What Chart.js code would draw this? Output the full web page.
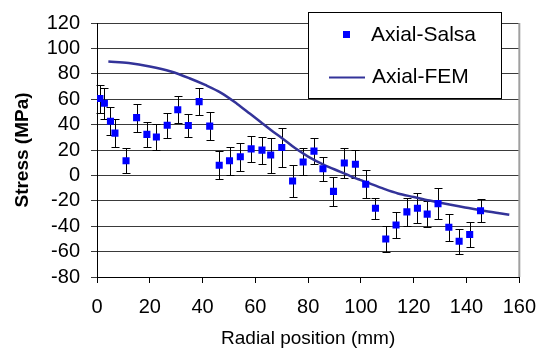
<!DOCTYPE html>
<html>
<head>
<meta charset="utf-8">
<script src="https://cdn.jsdelivr.net/npm/chart.js@4/dist/chart.umd.min.js"></script>
<style>
html,body{margin:0;padding:0;background:#fff;}
#wrap{width:548px;height:353px;position:relative;}
</style>
</head>
<body>
<div id="wrap"><canvas id="c" width="548" height="353"></canvas></div>
<script>
// Measured (Salsa) data
const salsaX = [1.1, 2.8, 5.1, 6.8, 11, 15, 18.9, 22.5, 26.6, 30.6, 34.6, 38.7, 42.7, 46.3, 50.2, 54.3, 58.4, 62.5, 65.8, 70, 74.1, 78.1, 82.2, 85.6, 89.6, 93.7, 97.9, 101.8, 105.5, 109.4, 113.3, 117.4, 121.4, 125.1, 129.2, 133.3, 137.2, 141.2, 145.3];
const salsaY = [60.5, 56.8, 42.6, 33.3, 11.6, 45.5, 32.3, 30.2, 39.5, 51.7, 39.3, 58.1, 38.8, 8, 11.6, 14.7, 20.9, 19.9, 16, 22, -4.4, 10.6, 19.1, 5.2, -12.6, 9.8, 8.8, -7, -25.8, -50.1, -39, -28.7, -25.8, -30.5, -22.2, -40.8, -51.9, -46.5, -27.9];
const salsaErr = [11, 12, 11, 11, 10, 11, 10, 10, 10, 10.5, 9, 10.5, 11, 11, 11, 11, 10.5, 10.7, 13.8, 15, 12.7, 10.6, 10, 9.5, 11.6, 11.7, 11, 11, 8.3, 10, 10.2, 11, 12, 10.5, 12.4, 10.7, 9.7, 10, 9];
// FEM curve
const femX = [4.3, 12, 20, 28, 35, 41, 47, 53, 58, 62, 66, 70, 75, 80, 86, 92, 96, 102, 109, 114, 120, 126, 132, 138.5, 147, 156.2];
const femY = [89.7, 88.5, 85.8, 81.8, 76.5, 71.2, 65, 56.5, 48.5, 42, 35.5, 29.5, 21.5, 14.8, 8.3, 3, -0.5, -5.3, -10.8, -14.2, -17, -19.8, -22.3, -24.8, -28, -31];
// Axes
const xTicks = [0, 20, 40, 60, 80, 100, 120, 140, 160];
const yTicks = [-80, -60, -40, -20, 0, 20, 40, 60, 80, 100, 120];
const seriesNames = ['Axial-Salsa', 'Axial-FEM'];
const xTitle = 'Radial position (mm)';
const yTitle = 'Stress (MPa)';

const FONT = "'Liberation Sans', Arial, sans-serif";

const errorBars = {
  id: 'errorBars',
  beforeDatasetsDraw(chart) {
    const ctx = chart.ctx, xs = chart.scales.x, ys = chart.scales.y;
    ctx.save();
    ctx.strokeStyle = '#000';
    ctx.lineWidth = 1;
    ctx.beginPath();
    salsaX.forEach((xv, i) => {
      const px = Math.round(xs.getPixelForValue(xv)) + 0.5;
      const pt = Math.round(ys.getPixelForValue(salsaY[i] + salsaErr[i])) + 0.5;
      const pb = Math.round(ys.getPixelForValue(salsaY[i] - salsaErr[i])) + 0.5;
      ctx.moveTo(px, pt); ctx.lineTo(px, pb);
      ctx.moveTo(px - 4, pt); ctx.lineTo(px + 4, pt);
      ctx.moveTo(px - 4, pb); ctx.lineTo(px + 4, pb);
    });
    ctx.stroke();
    ctx.restore();
  }
};

const frame = {
  id: 'frame',
  beforeDatasetsDraw(chart) {
    const ctx = chart.ctx, a = chart.chartArea;
    ctx.save();
    ctx.strokeStyle = '#a0a0a0';
    ctx.lineWidth = 2;
    ctx.beginPath();
    ctx.moveTo(a.right, a.top); ctx.lineTo(a.right, a.bottom);
    ctx.stroke();
    ctx.restore();
  }
};

const boxLegend = {
  id: 'boxLegend',
  afterDraw(chart) {
    const ctx = chart.ctx;
    ctx.save();
    ctx.fillStyle = '#fff';
    ctx.strokeStyle = '#000';
    ctx.lineWidth = 1;
    ctx.fillRect(308, 12, 193, 86);
    ctx.strokeRect(308.5, 12.5, 193, 86);
    // marker
    ctx.fillStyle = '#0000ff';
    ctx.fillRect(343, 31, 7, 7);
    // line
    ctx.strokeStyle = '#333399';
    ctx.lineWidth = 2;
    ctx.beginPath();
    ctx.moveTo(329, 77.5); ctx.lineTo(365, 77.5);
    ctx.stroke();
    ctx.fillStyle = '#000';
    ctx.font = '21px ' + FONT;
    ctx.textBaseline = 'middle';
    ctx.textAlign = 'left';
    ctx.fillText(chart.data.datasets[0].label, 371, 35);
    ctx.fillText(chart.data.datasets[1].label, 372, 77);
    ctx.restore();
  }
};

new Chart(document.getElementById('c'), {
  type: 'scatter',
  data: {
    datasets: [
      {
        label: seriesNames[0],
        data: salsaX.map((x, i) => ({x: x, y: salsaY[i]})),
        pointStyle: 'rect',
        pointRadius: 5,
        pointBackgroundColor: '#0000ff',
        pointBorderColor: '#0000ff',
        pointBorderWidth: 0,
        showLine: false,
        order: 1
      },
      {
        label: seriesNames[1],
        data: femX.map((x, i) => ({x: x, y: femY[i]})),
        showLine: true,
        borderColor: '#333399',
        borderWidth: 2.5,
        pointRadius: 0,
        tension: 0.4,
        cubicInterpolationMode: 'monotone',
        fill: false,
        order: 2
      }
    ]
  },
  options: {
    responsive: false,
    animation: false,
    devicePixelRatio: 1,
    layout: { padding: { top: 19, right: 20, left: 0, bottom: 0 } },
    plugins: { legend: { display: false }, tooltip: { enabled: false } },
    scales: {
      x: {
        type: 'linear', min: 0, max: 160,
        afterBuildTicks(s) { s.ticks = xTicks.map(v => ({value: v})); },
        afterFit(s) { s.height = 76; },
        grid: { drawOnChartArea: false, drawTicks: true, tickLength: 6, color: '#000' },
        border: { color: '#000', width: 1 },
        ticks: { color: '#000', font: { family: FONT, size: 20 }, padding: 12, maxRotation: 0, autoSkip: false },
        title: { display: true, text: xTitle, color: '#000', font: { family: FONT, size: 19 }, padding: { top: 0, bottom: 3 } }
      },
      y: {
        type: 'linear', min: -80, max: 120,
        afterBuildTicks(s) { s.ticks = yTicks.map(v => ({value: v})); },
        afterFit(s) { s.width = 97; },
        grid: { drawOnChartArea: true, drawTicks: true, tickLength: 6, color: '#3a3a3a' },
        border: { color: '#000', width: 1 },
        ticks: { color: '#000', font: { family: FONT, size: 20 }, padding: 11, autoSkip: false },
        title: { display: true, text: yTitle, color: '#000', font: { family: FONT, size: 19, weight: 'bold' }, padding: { top: 11, bottom: 0 } }
      }
    }
  },
  plugins: [errorBars, frame, boxLegend]
});
</script>
</body>
</html>
